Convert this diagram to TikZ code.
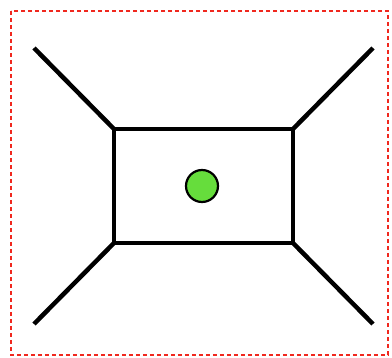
\documentclass[tikz,border=0pt]{standalone}
\definecolor{dotgreen}{RGB}{102,221,60}
\definecolor{borderred}{RGB}{240,40,30}
\tikzset{
  leg/.style={line width=4.5pt, black},
  frame/.style={draw=borderred, line width=2.2pt, dash pattern=on 4pt off 3pt},
  box/.style={draw, line width=4.5pt, minimum width=179pt, minimum height=114pt, inner sep=0pt, outer sep=0pt},
  dot/.style={circle, draw, line width=2.2pt, fill=dotgreen, minimum size=32pt, inner sep=0pt}
}
\begin{document}
\begin{tikzpicture}[x=1pt,y=-1pt]
\useasboundingbox (0,0) rectangle (392,358);
\draw[frame] (11,11) rectangle (388,355);
\node[box] (b) at (203.5,186) {};
\node[dot] (d) at (202,186) {};
\coordinate (tl) at (34,48);
\coordinate (tr) at (373,48);
\coordinate (bl) at (34,324);
\coordinate (br) at (373,324);
\draw[leg] (tl) -- (b.north west);
\draw[leg] (tr) -- (b.north east);
\draw[leg] (bl) -- (b.south west);
\draw[leg] (br) -- (b.south east);
\end{tikzpicture}
\end{document}
